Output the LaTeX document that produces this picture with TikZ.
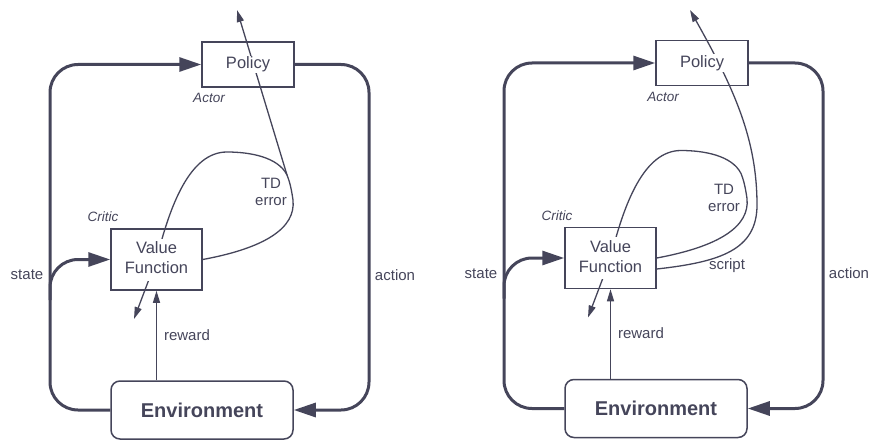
\documentclass[tikz,border=0pt]{standalone}
\usepackage{fontspec}
\setmainfont{Liberation Sans}
\usetikzlibrary{arrows.meta,backgrounds}
\definecolor{acgray}{HTML}{45455A}
\setlength{\fboxsep}{1pt}

\tikzset{
  box/.style={draw=acgray, line width=1.5pt, inner sep=0pt, text=acgray,
    font=\fontsize{16.5}{20}\selectfont},
  envbox/.style={box, rounded corners=9pt, minimum width=182pt, minimum height=58pt,
    font=\fontsize{20}{24}\selectfont\bfseries},
  tag/.style={text=acgray, font=\fontsize{13.5}{16}\selectfont\itshape},
  lbl/.style={text=acgray, align=center, font=\fontsize{15}{17}\selectfont},
  mainline/.style={draw=acgray, line width=3pt, rounded corners=28pt},
  thinline/.style={draw=acgray, line width=1.3pt},
  bighead/.tip={Triangle[length=22pt,width=14pt]},
  smallhead/.tip={Triangle[length=12pt,width=7pt]}
}

% one actor-critic frame, names get the suffix #1
\newcommand{\acframe}[1]{%
  \node[box, minimum width=92pt, minimum height=45pt] (policy#1) at (248,64.5) {\colorbox{white}{Policy}};
  \node[tag] (actor#1) at (209,98) {Actor};
  \node[box, minimum width=91pt, minimum height=61pt] (vf#1) at (156.5,259.5)
    {\colorbox{white}{\begin{tabular}{@{}c@{}}Value\\Function\end{tabular}}};
  \node[tag] (critic#1) at (103,217) {Critic};
  \node[envbox] (env#1) at (202,410) {Environment};
  \node[lbl] (state#1) at (27,275) {state};
  \node[lbl] (action#1) at (395,275) {action};
  \node[lbl] (reward#1) at (187,335) {reward};
  \coordinate (lx#1) at (50,0);
  \coordinate (rx#1) at (369,0);
  \coordinate (sb#1) at (50,300);
  \coordinate (vfout#1) at (134,319);
  \coordinate (tdtop#1) at (287,175);
  \begin{pgfonlayer}{background}
    % main loop
    \draw[mainline, -bighead] (env#1.west) -- (env#1.west -| lx#1)
      -- (policy#1.west -| lx#1) -- (policy#1.west);
    \draw[mainline, -bighead] (policy#1.east) -- (policy#1.east -| rx#1)
      -- (env#1.east -| rx#1) -- (env#1.east);
    \draw[mainline, -bighead] (sb#1) -- (vf#1.west -| lx#1) -- (vf#1.west);
    % critic
    \draw[thinline, -smallhead] (env#1.north -| vf#1.south) -- (vf#1.south);
    \draw[thinline, -smallhead] (vf#1.center) -- (vfout#1);
    \draw[thinline] (vf#1.east) .. controls (265,248) and (296,228) .. (293,200)
      .. controls (291,186) and (289,180) .. (tdtop#1)
      .. controls (278,157) and (250,152) .. (227,152)
      .. controls (190,152) and (170,205) .. (vf#1.center);
  \end{pgfonlayer}
}

\begin{document}
\begin{tikzpicture}[x=1pt, y=-1pt]
  \useasboundingbox (0,0) rectangle (870,441);

  % left: TD error to the actor
  \begin{scope}
    \acframe{L}
    \coordinate (poloutL) at (237,10);
    \node[lbl] (tdL) at (271,192) {TD\\error};
    \begin{pgfonlayer}{background}
      \draw[thinline, -smallhead] (tdtopL) -- (poloutL);
    \end{pgfonlayer}
  \end{scope}

  % right: script to the actor
  \begin{scope}[shift={(454,-1.5)}]
    \acframe{R}
    \coordinate (scriptoutR) at (236,11.5);
    \node[lbl] (tdR) at (270,199.5) {TD\\error};
    \node[lbl] (scriptR) at (273,267.5) {script};
    \begin{pgfonlayer}{background}
      \draw[thinline, -smallhead] ([yshift=-11pt]vfR.east)
        .. controls (266,263.5) and (303,251.5) .. (303,206.5)
        .. controls (303,141.5) and (281,91.5) .. (scriptoutR);
    \end{pgfonlayer}
  \end{scope}
\end{tikzpicture}
\end{document}
